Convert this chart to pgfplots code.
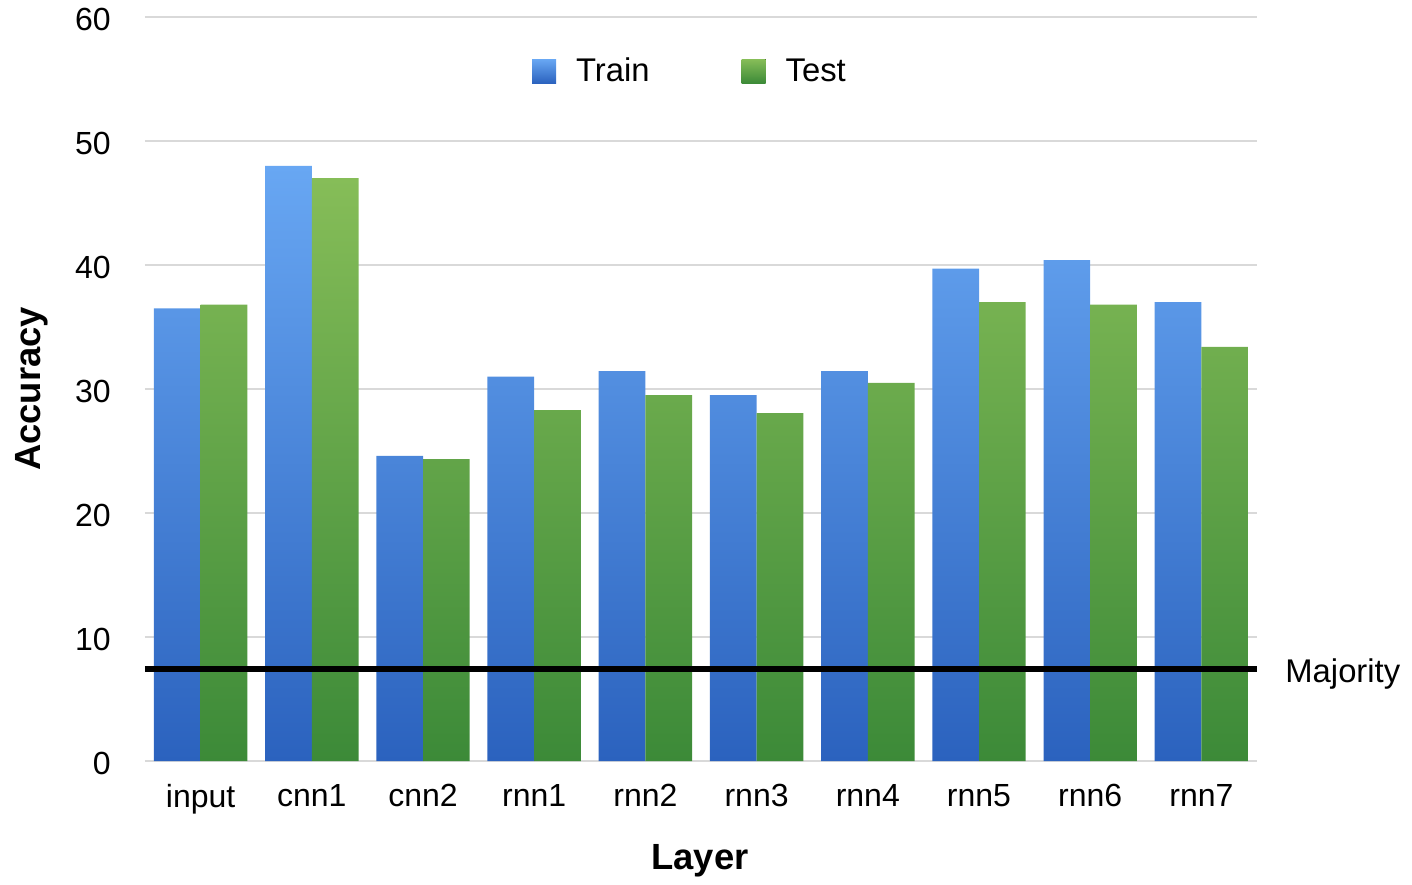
\documentclass[border=0pt]{standalone}
\usepackage{fontspec}
\setmainfont{Liberation Sans}
\usepackage{pgfplots}
\pgfplotsset{compat=1.18}
\definecolor{trtop}{HTML}{68A7F3}
\definecolor{trbot}{HTML}{2B62BE}
\definecolor{tetop}{HTML}{86BD58}
\definecolor{tebot}{HTML}{3C8A38}
\definecolor{gridc}{HTML}{D9D9D9}
\begin{document}
\begin{tikzpicture}
\begin{axis}[
  name=ax,
  scale only axis,
  clip=false,
  width=556pt, height=372pt,
  xmin=-0.5, xmax=9.5,
  ymin=0, ymax=60,
  ytick={0,10,...,60},
  xtick={0,...,9},
  xticklabels={input,cnn1,cnn2,rnn1,rnn2,rnn3,rnn4,rnn5,rnn6,rnn7},
  axis line style={draw=none},
  major tick length=0pt,
  ymajorgrids,
  grid style={gridc, line width=0.6pt},
  /pgf/number format/assume math mode=true,
  tick label style={font=\fontsize{16}{19}\selectfont},
  yticklabel style={anchor=east, inner sep=0pt, xshift=-17pt, yshift=-1pt},
  xticklabel style={anchor=north, inner sep=0pt, yshift=-11.5pt},
  ylabel={Accuracy},
  xlabel={Layer},
  every axis y label/.style={at={(axis description cs:-0.1016,0.5)}, rotate=90, anchor=center, font=\fontsize{18.2}{21}\selectfont\bfseries},
  every axis x label/.style={at={(axis description cs:0.499,-0.1345)}, anchor=center, font=\fontsize{18.2}{21}\selectfont\bfseries},
  ybar, bar width=0.42,
  legend style={at={(axis description cs:0.491,0.927)}, anchor=center, draw=none, fill=none,
    font=\fontsize{16.4}{19}\selectfont, legend columns=2,
    /tikz/every even column/.append style={column sep=44pt}},
]
\addplot[draw=none, top color=trtop, bottom color=trbot, bar shift=-0.21,
  legend image code/.code={\fill[top color=trtop, bottom color=trbot] (0pt,-6pt) rectangle (12pt,6pt); \path (0pt,0pt) -- (20pt,0pt);}]
  coordinates {(0,36.5) (1,48.0) (2,24.6) (3,31.0) (4,31.45) (5,29.5) (6,31.45) (7,39.7) (8,40.4) (9,37.0)};
\addplot[draw=none, top color=tetop, bottom color=tebot, bar shift=0.21,
  legend image code/.code={\fill[top color=tetop, bottom color=tebot] (0pt,-6pt) rectangle (12pt,6pt); \path (0pt,0pt) -- (20pt,0pt);}]
  coordinates {(0,36.8) (1,47.0) (2,24.35) (3,28.3) (4,29.5) (5,28.06) (6,30.5) (7,37.0) (8,36.8) (9,33.4)};
\legend{Train,Test}
\addplot[sharp plot, black, line width=2.8pt, forget plot] coordinates {(-0.5,7.4) (9.5,7.4)};
\node[anchor=west, font=\fontsize{16.4}{19}\selectfont, inner sep=0pt] at (axis cs:9.5,7.0) [xshift=14pt] {Majority};
\end{axis}
\pgfresetboundingbox
\path ([shift={(-72.5pt,-61.5pt)}]ax.south west) rectangle ([shift={(77.5pt,8.5pt)}]ax.north east);
\end{tikzpicture}
\end{document}
